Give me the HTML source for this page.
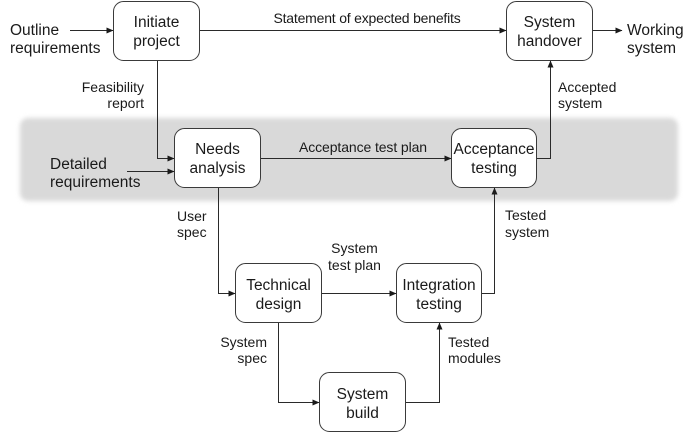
<!DOCTYPE html>
<html>
<head>
<meta charset="utf-8">
<style>
html,body{margin:0;padding:0;background:#fff;}
svg{display:block;}
text{font-family:"Liberation Sans",Arial,sans-serif;fill:#1a1a1a;}
.n{font-size:15.5px;text-anchor:middle;}
.l{font-size:14px;}
.io{font-size:15.5px;}
.box{fill:#fff;stroke:#3a3a3a;stroke-width:1;}
.ln{fill:none;stroke:#2a2a2a;stroke-width:1;}
</style>
</head>
<body>
<svg width="694" height="433" viewBox="0 0 694 433" xmlns="http://www.w3.org/2000/svg">
<defs>
<filter id="bl" x="-5%" y="-20%" width="110%" height="140%"><feGaussianBlur stdDeviation="2.5"/></filter>
<marker id="ah" markerWidth="7" markerHeight="6" refX="6.5" refY="3" orient="auto" markerUnits="userSpaceOnUse">
<path d="M0,0 L7,3 L0,6 z" fill="#1a1a1a"/>
</marker>
</defs>
<rect width="694" height="433" fill="#fff"/>
<!-- gray band -->
<rect x="20" y="118" width="658" height="83" rx="8" fill="#d9d9d9" filter="url(#bl)"/>

<!-- connectors -->
<line class="ln" x1="70" y1="30.5" x2="113" y2="30.5" marker-end="url(#ah)"/>
<line class="ln" x1="200" y1="30.5" x2="506" y2="30.5" marker-end="url(#ah)"/>
<line class="ln" x1="593" y1="30.5" x2="622" y2="30.5" marker-end="url(#ah)"/>
<polyline class="ln" points="157.5,61 157.5,158.5 174,158.5" marker-end="url(#ah)"/>
<line class="ln" x1="127" y1="171.5" x2="174" y2="171.5" marker-end="url(#ah)"/>
<line class="ln" x1="261" y1="158.5" x2="451" y2="158.5" marker-end="url(#ah)"/>
<polyline class="ln" points="537,158.5 550.5,158.5 550.5,61" marker-end="url(#ah)"/>
<polyline class="ln" points="218.5,188 218.5,293.5 235,293.5" marker-end="url(#ah)"/>
<line class="ln" x1="322" y1="293.5" x2="396" y2="293.5" marker-end="url(#ah)"/>
<polyline class="ln" points="482,293.5 494.5,293.5 494.5,188" marker-end="url(#ah)"/>
<polyline class="ln" points="278.5,323 278.5,402.5 319,402.5" marker-end="url(#ah)"/>
<polyline class="ln" points="406,402.5 439.5,402.5 439.5,323" marker-end="url(#ah)"/>

<!-- boxes -->
<rect class="box" x="113.5" y="1.5" width="86" height="59" rx="10"/>
<rect class="box" x="506.5" y="1.5" width="86" height="59" rx="10"/>
<rect class="box" x="174.5" y="128.5" width="86" height="59" rx="10"/>
<rect class="box" x="451.5" y="128.5" width="85" height="59" rx="10"/>
<rect class="box" x="235.5" y="263.5" width="86" height="59" rx="10"/>
<rect class="box" x="396.5" y="263.5" width="85" height="59" rx="10"/>
<rect class="box" x="319.5" y="372.5" width="86" height="59" rx="10"/>

<!-- node labels -->
<text class="n" x="156.5" y="27">Initiate</text>
<text class="n" x="156.5" y="46">project</text>
<text class="n" x="549.5" y="27">System</text>
<text class="n" x="549.5" y="46">handover</text>
<text class="n" x="217.5" y="154">Needs</text>
<text class="n" x="217.5" y="173">analysis</text>
<text class="n" x="494" y="154">Acceptance</text>
<text class="n" x="494" y="173">testing</text>
<text class="n" x="278.5" y="290">Technical</text>
<text class="n" x="278.5" y="309">design</text>
<text class="n" x="439" y="290">Integration</text>
<text class="n" x="439" y="309">testing</text>
<text class="n" x="362.5" y="399">System</text>
<text class="n" x="362.5" y="418">build</text>

<!-- inputs / outputs -->
<text class="io" x="10" y="35">Outline</text>
<text class="io" x="10" y="53">requirements</text>
<text class="io" x="50" y="169">Detailed</text>
<text class="io" x="50" y="187">requirements</text>
<text class="io" x="627" y="35">Working</text>
<text class="io" x="627" y="53">system</text>

<!-- edge labels -->
<text class="l" x="367" y="23" text-anchor="middle" letter-spacing="-0.2">Statement of expected benefits</text>
<text class="l" x="144" y="92" text-anchor="end">Feasibility</text>
<text class="l" x="144" y="108" text-anchor="end">report</text>
<text class="l" x="363" y="152" text-anchor="middle" letter-spacing="-0.1">Acceptance test plan</text>
<text class="l" x="558" y="92">Accepted</text>
<text class="l" x="558" y="108">system</text>
<text class="l" x="177" y="221">User</text>
<text class="l" x="177" y="237">spec</text>
<text class="l" x="354.5" y="253" text-anchor="middle">System</text>
<text class="l" x="354.5" y="270" text-anchor="middle">test plan</text>
<text class="l" x="505" y="220">Tested</text>
<text class="l" x="505" y="237">system</text>
<text class="l" x="267" y="347" text-anchor="end">System</text>
<text class="l" x="267" y="363" text-anchor="end">spec</text>
<text class="l" x="448" y="347">Tested</text>
<text class="l" x="448" y="363">modules</text>
</svg>
</body>
</html>
